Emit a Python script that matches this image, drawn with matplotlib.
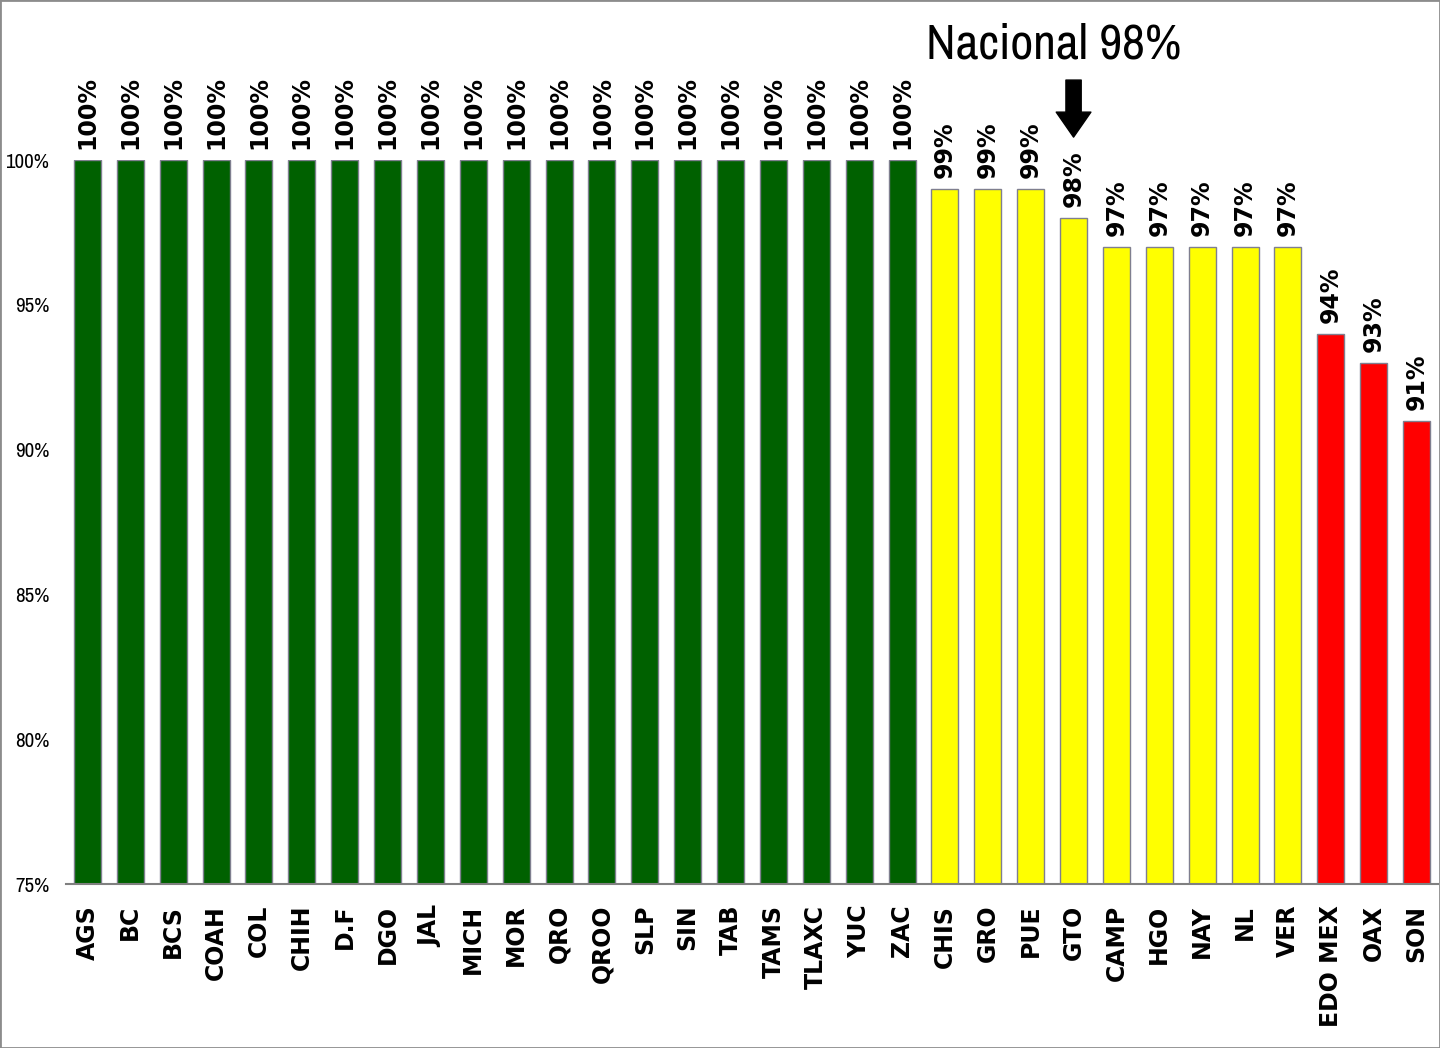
import numpy as np
import matplotlib.pyplot as plt
from matplotlib.patches import Rectangle

states = ["AGS", "BC", "BCS", "COAH", "COL", "CHIH", "D.F", "DGO", "JAL", "MICH",
          "MOR", "QRO", "QROO", "SLP", "SIN", "TAB", "TAMS", "TLAXC", "YUC", "ZAC",
          "CHIS", "GRO", "PUE", "GTO", "CAMP", "HGO", "NAY", "NL", "VER",
          "EDO MEX", "OAX", "SON"]
values = [100, 100, 100, 100, 100, 100, 100, 100, 100, 100,
          100, 100, 100, 100, 100, 100, 100, 100, 100, 100,
          99, 99, 99, 98, 97, 97, 97, 97, 97,
          94, 93, 91]
nacional = 98
nacional_state = "GTO"

def bar_color(v):
    if v >= 100:
        return "#006100"
    if v >= 95:
        return "#FFFF00"
    return "#FF0000"

colors = [bar_color(v) for v in values]

narrow = ["Archivo Narrow", "DejaVu Sans"]

fig = plt.figure(figsize=(14.4, 10.48), dpi=100)
ax = fig.add_axes([66/1440, 1 - 884/1048, (1438 - 66)/1440, (884 - 160)/1048])

x = np.arange(len(states))
bars = ax.bar(x, values, width=0.63, color=colors, edgecolor="#7f7f8f", linewidth=1)

ax.set_xlim(-0.5, len(states) - 0.5)
ax.set_ylim(75, 100)
ax.set_yticks([75, 80, 85, 90, 95, 100])
ax.set_yticklabels([f"{t}%" for t in [75, 80, 85, 90, 95, 100]], family=narrow, fontsize=15)
ax.tick_params(axis="y", length=0, pad=12)
ax.tick_params(axis="x", length=0, pad=15)
ax.set_xticks(x)
ax.set_xticklabels(states, rotation=90, fontweight="bold", fontsize=17)

for s in ["top", "right", "left"]:
    ax.spines[s].set_visible(False)
ax.spines["bottom"].set_color("#808080")
ax.spines["bottom"].set_linewidth(1.5)

for xi, v in zip(x, values):
    ax.annotate(f"{v}%", (xi, v), xytext=(0, 8), textcoords="offset points",
                rotation=90, ha="center", va="bottom", fontsize=17,
                fontweight="bold", clip_on=False)

# marcador nacional
gi = states.index(nacional_state)
ax.annotate("", xy=(gi, 100.79), xytext=(gi, 102.76),
            arrowprops=dict(arrowstyle="simple,head_width=2.5,head_length=1.8,tail_width=1.1",
                            color="black", shrinkA=0, shrinkB=0), annotation_clip=False)
fig.text(1054 / 1440, 1 - 45 / 1048, f"Nacional {nacional}%",
         family=narrow, fontsize=36, ha="center", va="center")

fig.patches.append(Rectangle((0, 0), 1, 1, transform=fig.transFigure, fill=False,
                             edgecolor="#8c8c8c", linewidth=2))

fig.savefig("out.png", dpi=100)
